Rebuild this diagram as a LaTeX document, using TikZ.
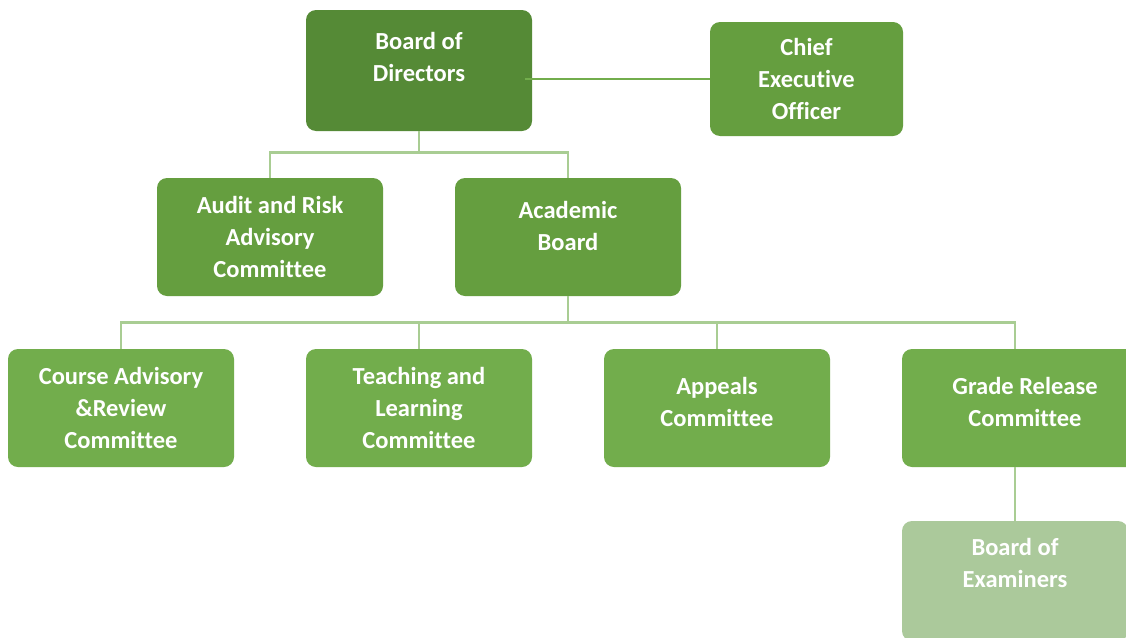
\documentclass[tikz,border=0pt]{standalone}
\usepackage{fontspec}
\setmainfont{Carlito}[Ligatures=NoCommon]
\usepackage{tikz}
\usetikzlibrary{positioning}
\definecolor{topgreen}{HTML}{558A36}
\definecolor{midgreen}{HTML}{659E3F}
\definecolor{lowgreen}{HTML}{72AD4C}
\definecolor{palegreen}{HTML}{ABC99B}
\definecolor{linkgreen}{HTML}{A9CD93}
\tikzstyle{unit} = [rectangle, rounded corners=10pt, minimum width=226pt, minimum height=118pt, inner sep=0pt, text centered, align=center, text=white, font=\fontsize{24.5}{32}\selectfont\bfseries]
\tikzstyle{board} = [unit, fill=topgreen, minimum height=121pt]
\tikzstyle{officer} = [unit, fill=midgreen, minimum width=193pt, minimum height=114pt]
\tikzstyle{second} = [unit, fill=midgreen]
\tikzstyle{committee} = [unit, fill=lowgreen]
\tikzstyle{examiners} = [unit, fill=palegreen]
\tikzstyle{link} = [draw=linkgreen, line width=2.6pt]
\tikzstyle{ceolink} = [draw=lowgreen, line width=1.6pt]

\begin{document}
\begin{tikzpicture}[x=1pt, y=-1pt]
    \clip (0,0) rectangle (1126,637);
    \fill[white] (0,0) rectangle (1126,637);
    \node (bod) [board, text depth=28pt] at (419,70.5) {Board of\\Directors};
    \node (ceo) [officer] at (806.5,79) {Chief\\Executive\\Officer};
    \node (audit) [second] at (270,237) {Audit and Risk\\Advisory\\Committee};
    \node (acad) [second, text depth=22pt] at (568,237) {Academic\\Board};
    \node (course) [committee] at (121,408) {Course Advisory\\\&Review\\Committee};
    \node (teach) [committee] at (419,408) {Teaching and\\Learning\\Committee};
    \node (appeal) [committee, text depth=12pt] at (717,408) {Appeals\\Committee};
    \node (grade) [committee, minimum width=246pt, text depth=12pt] at (1025,408) {Grade Release\\Committee};
    \node (exam) [examiners, minimum height=120pt, text depth=36pt] at (1015,581) {Board of\\Examiners};
    \coordinate (bodline) at (525,79);
    \draw [ceolink] (bodline) -- (ceo.west);
    \draw [link] (bod.south) -- ++(0,21) -| (audit.north);
    \draw [link] (bod.south) ++(0,21) -| (acad.north);
    \draw [link] (acad.south) -- ++(0,26) -| (course.north);
    \draw [link] (acad.south) ++(0,26) -| (teach.north);
    \draw [link] (acad.south) ++(0,26) -| (appeal.north);
    \draw [link] (acad.south) ++(0,26) -| (exam.north |- grade.north);
    \draw [link] (exam.north |- grade.south) -- (exam.north);
\end{tikzpicture}
\end{document}
